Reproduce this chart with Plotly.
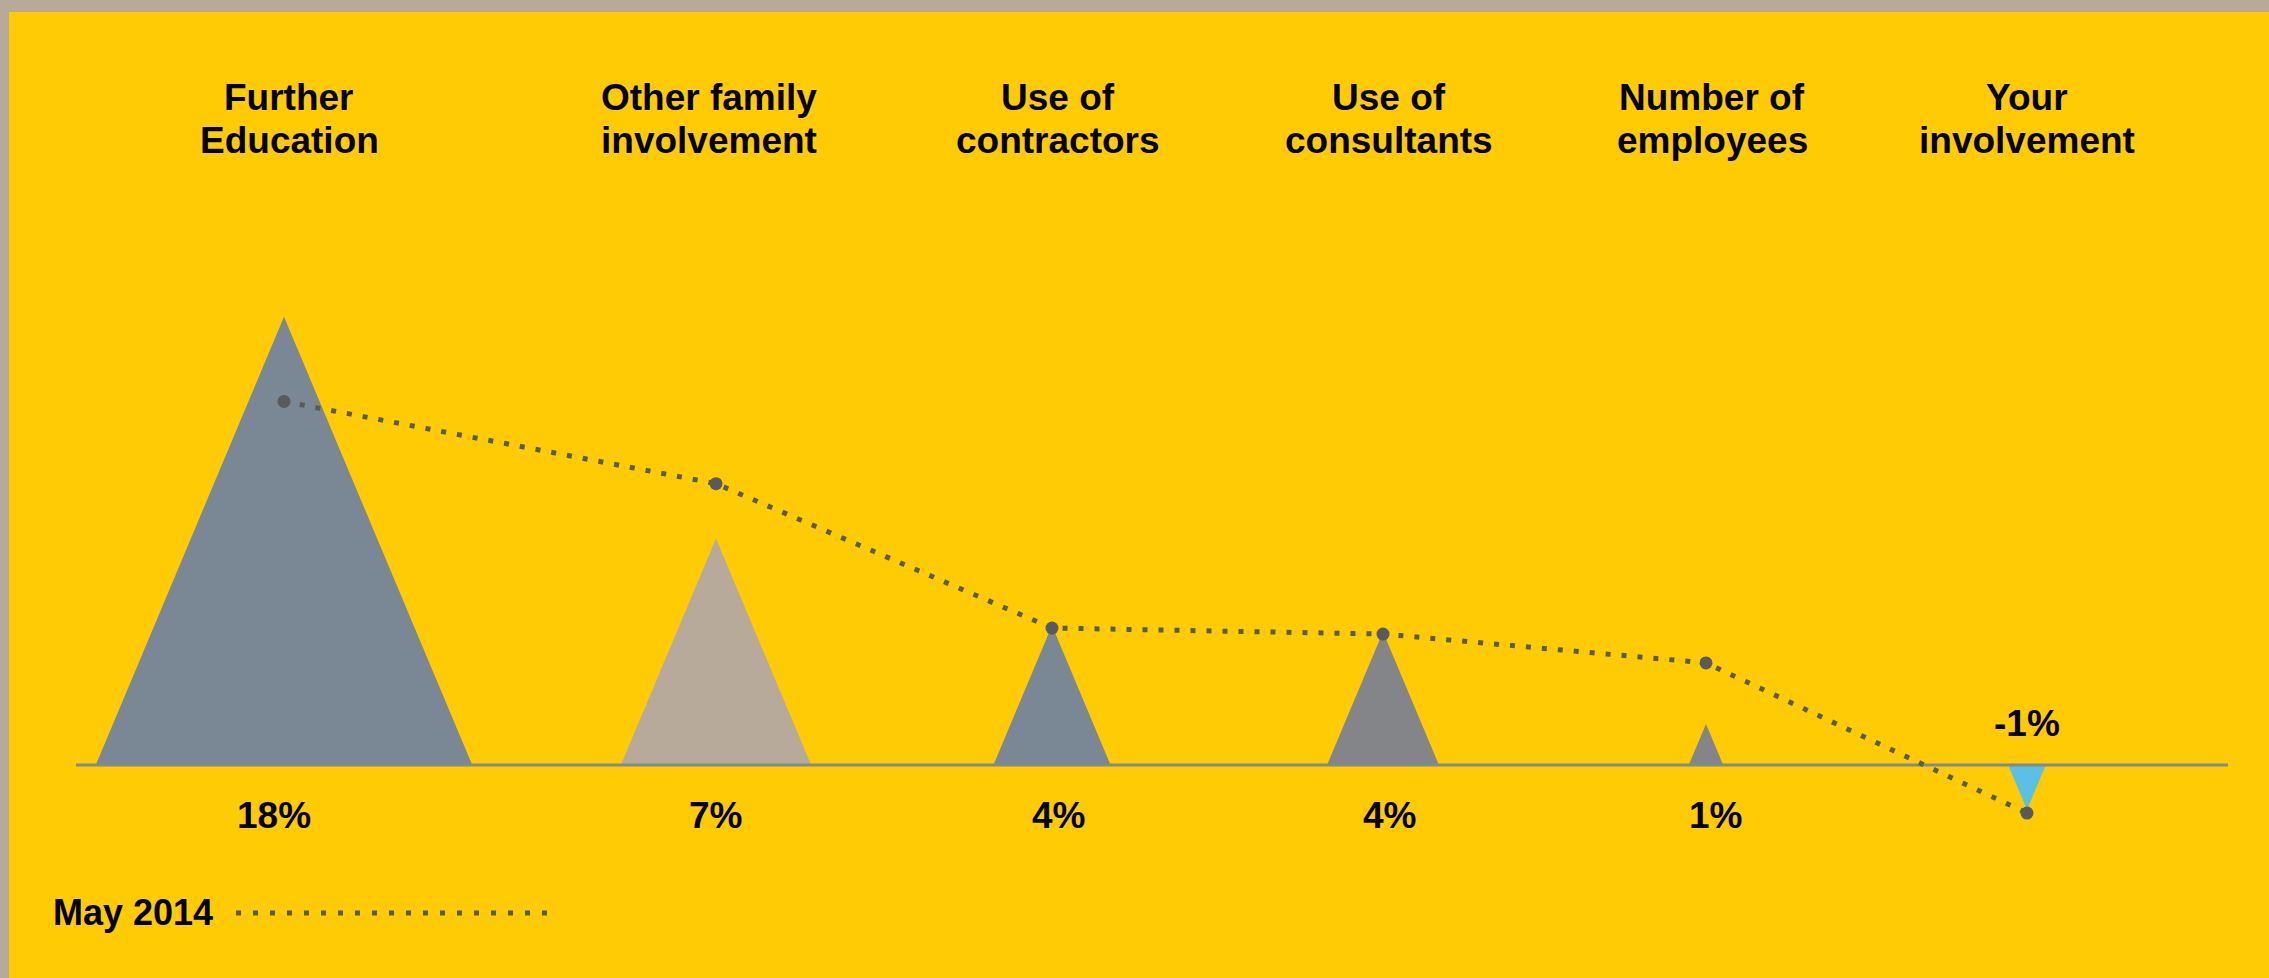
import plotly.graph_objects as go

# ---------------- data ----------------
categories_line1 = ["Further", "Other family", "Use of", "Use of", "Number of", "Your"]
categories_line2 = ["Education", "involvement", "contractors", "consultants", "employees", "involvement"]
value_labels = ["18%", "7%", "4%", "4%", "1%", "-1%"]
current_values = [18.0, 9.1, 5.6, 5.35, 1.65, -1.8]      # triangle heights
may_2014_values = [14.6, 11.3, 5.5, 5.26, 4.1, -1.93]   # dotted series
series_name = "May 2014"

# ---------------- layout / style ----------------
W, H = 2269, 978
BASE_PX = 765            # baseline pixel row
PX_PER_UNIT = 24.9       # vertical pixels per unit
x_positions = [284, 716, 1052, 1383, 1706, 2027]
label_x = [289, 709, 1058, 1389, 1712, 2027]
value_label_x = [274, 715, 1058, 1389, 1715, 2027]
tri_colors = ["#7a8794", "#b8aa9a", "#7a8794", "#848589", "#848589", "#5bc0e6"]
SHAPE_RATIO = 0.42       # half-width / height
YELLOW = "#ffcb05"
BORDER = "#b8aa9a"
DOT = "#575b5f"
BASE_COL = "#7f8b8f"
FONT = "Liberation Sans"
FS = 37

y_top = BASE_PX / PX_PER_UNIT
y_bot = -(H - BASE_PX) / PX_PER_UNIT

fig = go.Figure()

# triangles
for xc, h, col in zip(x_positions, current_values, tri_colors):
    hw = SHAPE_RATIO * abs(h) * PX_PER_UNIT
    fig.add_trace(go.Scatter(
        x=[xc - hw, xc, xc + hw, xc - hw], y=[0, h, 0, 0],
        mode="lines", fill="toself", fillcolor=col,
        line=dict(width=0, color=col), hoverinfo="skip", showlegend=False))

# baseline
fig.add_trace(go.Scatter(x=[76, 2228], y=[0, 0], mode="lines",
                         line=dict(color=BASE_COL, width=3),
                         hoverinfo="skip", showlegend=False))

# dotted series
fig.add_trace(go.Scatter(
    x=x_positions, y=may_2014_values, mode="lines+markers", name=series_name,
    line=dict(color=DOT, width=5, dash="5px,11px"),
    marker=dict(color=DOT, size=13), showlegend=False))

annotations = []
for lx, l1, l2 in zip(label_x, categories_line1, categories_line2):
    for txt, py in ((l1, 98), (l2, 140)):
        annotations.append(dict(
            x=lx, y=1 - py / H, xref="x", yref="paper", text=txt, showarrow=False,
            xanchor="center", yanchor="middle",
            font=dict(family=FONT, size=FS, color="#000000", weight="bold")))

for lx, lab, v in zip(value_label_x, value_labels, current_values):
    shift = -50 if v >= 0 else 42
    annotations.append(dict(
        x=lx, y=0, xref="x", yref="y", text=lab, showarrow=False,
        xanchor="center", yanchor="middle", yshift=shift,
        font=dict(family=FONT, size=FS, color="#000000", weight="bold")))

# legend text
annotations.append(dict(
    x=51, y=1 - 912 / H, xref="x", yref="paper", text=series_name, showarrow=False,
    xanchor="left", yanchor="middle",
    font=dict(family=FONT, size=FS - 1, color="#000000", weight="bold")))

shapes = [
    # border bands
    dict(type="rect", xref="paper", yref="paper", x0=0, x1=1, y0=1 - 12 / H, y1=1,
         fillcolor=BORDER, line=dict(width=0), layer="below"),
    dict(type="rect", xref="paper", yref="paper", x0=0, x1=9 / W, y0=0, y1=1,
         fillcolor=BORDER, line=dict(width=0), layer="below"),
    # legend dotted sample
    dict(type="line", xref="x", yref="paper", x0=236, x1=552,
         y0=1 - 913 / H, y1=1 - 913 / H,
         line=dict(color=DOT, width=5, dash="5px,12px")),
]

fig.update_layout(
    width=W, height=H,
    margin=dict(l=0, r=0, t=0, b=0),
    paper_bgcolor=YELLOW, plot_bgcolor="rgba(0,0,0,0)",
    xaxis=dict(range=[0, W], visible=False, fixedrange=True),
    yaxis=dict(range=[y_bot, y_top], visible=False, fixedrange=True),
    annotations=annotations, shapes=shapes,
    showlegend=False,
)

fig.write_html("out.html")
